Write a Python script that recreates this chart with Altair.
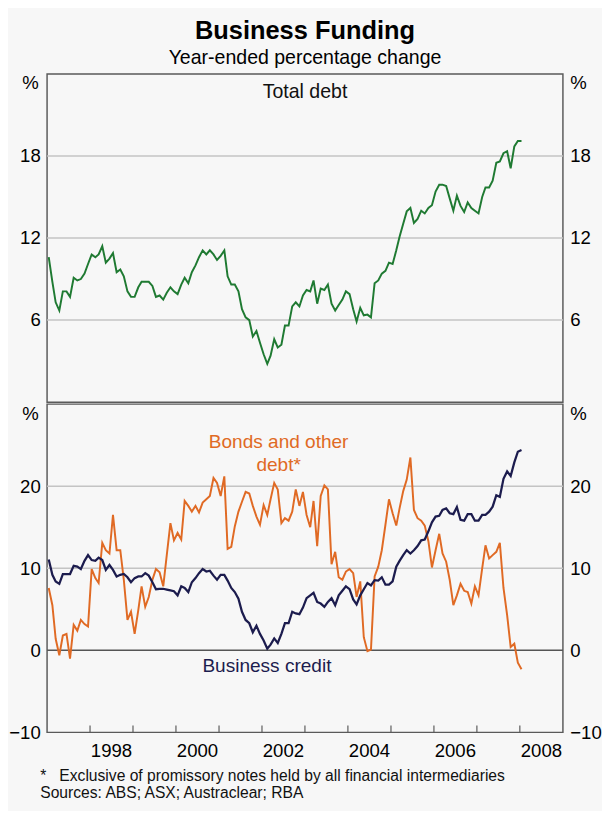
import altair as alt
import pandas as pd

# ---------------- data (monthly, Jan 1997 - Jan 2008) ----------------
total_debt = [
    10.6, 8.8, 7.3, 6.7, 8.1, 8.1, 7.7, 9.1, 8.9, 9.0, 9.4, 10.1,
    10.8, 10.6, 10.8, 11.4, 10.2, 10.5, 10.9, 9.5, 9.7, 9.2, 8.1, 7.7,
    7.7, 8.4, 8.8, 8.8, 8.8, 8.5, 7.7, 7.8, 7.5, 8.0, 8.4, 8.1,
    7.9, 8.6, 9.1, 8.7, 9.5, 10.0, 10.6, 11.1, 10.8, 11.1, 10.8, 10.4,
    10.7, 11.1, 9.2, 8.6, 8.6, 8.1, 6.8, 6.2, 6.0, 4.8, 5.2, 4.35,
    3.5, 2.8, 3.4, 4.6, 4.0, 4.2, 5.6, 5.6, 7.0, 7.3, 7.0, 7.8,
    8.2, 8.1, 8.9, 7.2, 8.3, 8.2, 8.6, 7.2, 6.7, 7.1, 7.5, 8.1,
    7.9, 6.8, 5.9, 6.9, 6.35, 6.4, 6.2, 8.7, 8.9, 9.4, 9.6, 10.2,
    10.1, 11.1, 12.1, 13.05, 13.95, 14.2, 13.1, 13.4, 14.0, 13.8, 14.2, 14.4,
    15.4, 15.9, 15.9, 15.8, 14.9, 14.0, 15.1, 14.35, 13.9, 14.6, 14.2, 14.0,
    13.8, 15.0, 15.7, 15.7, 16.2, 17.5, 17.6, 18.2, 18.35, 17.1, 18.7, 19.1,
    19.1,
]
business_credit = [
    11.06, 9.2, 8.4, 8.1, 9.3, 9.3, 9.3, 10.3, 10.2, 9.9, 10.9, 11.6,
    11.0, 10.9, 11.3, 11.0, 9.8, 10.4, 9.8, 9.0, 9.2, 9.3, 8.9, 8.3,
    8.8, 9.0, 9.0, 9.4, 9.1, 8.3, 7.45, 7.5, 7.5, 7.4, 7.3, 7.2,
    6.7, 7.8, 7.6, 7.1, 8.3, 8.8, 9.4, 9.9, 9.6, 9.7, 9.1, 8.6,
    9.2, 9.2, 8.5, 7.6, 7.1, 6.3, 4.7, 3.7, 3.3, 2.2, 3.0, 2.0,
    1.2, 0.2, 0.7, 1.45, 0.9, 2.0, 3.3, 3.3, 4.7, 4.5, 4.4, 5.2,
    6.35, 6.7, 7.0, 5.9, 5.7, 5.3, 5.9, 6.35, 5.5, 6.7, 7.25, 7.8,
    7.45, 6.2, 5.6, 6.7, 7.45, 8.2, 7.9, 8.55, 8.5, 8.9, 8.0, 8.0,
    8.4, 10.2, 10.9, 11.6, 12.2, 11.8, 12.2, 12.7, 13.4, 13.5, 14.5, 15.6,
    16.3, 16.4, 17.1, 17.3, 16.7, 16.6, 17.45, 15.9, 15.8, 16.6, 16.6, 15.8,
    15.8, 16.5, 16.5, 16.9, 17.5, 18.9, 18.7, 20.9, 21.8, 21.25, 22.9, 24.2,
    24.4,
]
bonds_other = [
    7.6, 5.5, 1.4, -0.6, 1.8, 2.0, -1.0, 3.1, 2.4, 3.7, 3.2, 2.9,
    9.9, 8.8, 8.2, 13.1, 12.2, 11.8, 16.5, 12.2, 12.2, 8.6, 3.7, 4.7,
    2.0, 4.9, 7.8, 5.3, 6.5, 8.6, 9.9, 9.5, 7.8, 11.6, 15.5, 13.4,
    14.3, 13.5, 18.2, 17.6, 16.9, 17.6, 16.8, 18.0, 18.4, 18.8, 21.0, 20.4,
    18.8, 21.2, 12.35, 12.6, 15.1, 16.9, 18.1, 19.3, 19.1, 17.6, 16.3, 15.3,
    17.7, 16.5, 18.4, 20.4, 19.6, 15.5, 16.1, 15.8, 16.9, 19.6, 17.6, 19.3,
    16.5, 15.0, 18.2, 12.7, 18.8, 20.1, 19.6, 10.5, 12.0, 8.9, 8.6, 9.6,
    9.9, 9.4, 6.5, 8.4, 1.6, -0.1, 0.1, 9.0, 10.2, 12.2, 15.3, 18.4,
    16.7, 15.2, 17.3, 19.4, 20.8, 23.5, 17.1, 16.1, 15.8, 15.2, 13.3, 10.1,
    12.2, 14.2, 11.8, 10.8, 8.6, 5.5, 6.7, 8.1, 7.25, 7.1, 5.7, 7.8,
    6.7, 10.0, 12.8, 11.2, 11.6, 12.0, 13.1, 7.6, 4.3, 0.4, 0.8, -1.5,
    -2.3,
]

tick_years = list(range(1998, 2009))
label_years = [1998, 2000, 2002, 2004, 2006, 2008]
top_ticks = [6, 12, 18]
bottom_ticks = [-10, 0, 10, 20]
bottom_grid = [10, 20]
zero_line = [0]

title_text = "Business Funding"
subtitle_text = "Year-ended percentage change"
footnote_text = "*\u00a0\u00a0 Exclusive of promissory notes held by all financial intermediaries"
sources_text = "Sources: ABS; ASX; Austraclear; RBA"

dates = pd.date_range("1997-01-01", periods=len(total_debt), freq="MS") + pd.Timedelta(days=14)
df = pd.DataFrame({
    "date": dates.strftime("%Y-%m-%d"),
    "total": total_debt,
    "credit": business_credit,
    "bonds": bonds_other,
})
ticks_df = pd.DataFrame({"date": [f"{y}-01-01" for y in tick_years]})
labels_df = pd.DataFrame({"date": [f"{y}-07-02" for y in label_years],
                          "label": [str(y) for y in label_years]})

# ---------------- styling ----------------
FONT = "Liberation Sans"
W, H = 528, 336
GREEN = "#1f7a32"
ORANGE = "#e06a24"
NAVY = "#1c1c4e"
GRID = "#c4c4c4"
FRAME = "#5a5a5a"

xscale = alt.Scale(type="utc",
                   domain=[alt.DateTime(year=1997, month=1, date=1, utc=True),
                           alt.DateTime(year=2009, month=1, date=1, utc=True)])


def yaxis(orient, values, title_y):
    left = orient == "left"
    return alt.Axis(
        orient=orient, values=values, grid=False, ticks=False, domain=False,
        labelPadding=7, labelFontSize=19, labelColor="black", labelFont=FONT,
        labelFlush=False, labelOverlap=False,
        title="%", titleAngle=0, titleFontSize=19, titleFontWeight="normal",
        titleColor="black", titleFont=FONT, titleBaseline="alphabetic",
        titleAlign="right" if left else "left",
        titleX=-9 if left else 7, titleY=title_y,
    )


def text_layer(text, x, y, size, color="#111111", weight="normal", align="center"):
    return alt.Chart(pd.DataFrame({"t": [text]})).mark_text(
        fontSize=size, font=FONT, color=color, fontWeight=weight,
        align=align, baseline="alphabetic",
    ).encode(text="t:N", x=alt.value(x), y=alt.value(y))


# ---------------- top panel: total debt ----------------
ytop = alt.Scale(domain=[0, 24], nice=False, zero=False)

top_grid = alt.Chart(pd.DataFrame({"v": top_ticks})).mark_rule(
    color=GRID, strokeWidth=1.5
).encode(y=alt.Y("v:Q", scale=ytop, axis=yaxis("left", top_ticks, 15)))

top_line = alt.Chart(df).mark_line(color=GREEN, strokeWidth=2).encode(
    x=alt.X("date:T", scale=xscale, axis=None),
    y=alt.Y("total:Q", scale=ytop, axis=yaxis("right", top_ticks, 15)),
)

top = alt.layer(
    top_grid, top_line,
    text_layer("Total debt", W / 2, 25, 20),
    text_layer(title_text, W / 2, -36, 26, color="black", weight="bold"),
    text_layer(subtitle_text, W / 2, -10.5, 20, color="black"),
).resolve_axis(y="independent").properties(width=W, height=H)

# ---------------- bottom panel: credit and bonds ----------------
ybot = alt.Scale(domain=[-10, 30], nice=False, zero=False)

bot_grid = alt.Chart(pd.DataFrame({"v": bottom_grid})).mark_rule(
    color=GRID, strokeWidth=1.5
).encode(y=alt.Y("v:Q", scale=ybot, axis=yaxis("left", bottom_ticks, 16)))

bot_zero = alt.Chart(pd.DataFrame({"v": zero_line})).mark_rule(
    color="#555555", strokeWidth=1.5
).encode(y=alt.Y("v:Q", scale=ybot, axis=None))

bonds_line = alt.Chart(df).mark_line(color=ORANGE, strokeWidth=2).encode(
    x=alt.X("date:T", scale=xscale, axis=None),
    y=alt.Y("bonds:Q", scale=ybot, axis=yaxis("right", bottom_ticks, 16)),
)

credit_line = alt.Chart(df).mark_line(color=NAVY, strokeWidth=2.3).encode(
    x=alt.X("date:T", scale=xscale, axis=None),
    y=alt.Y("credit:Q", scale=ybot, axis=None),
)

x_ticks = alt.Chart(ticks_df).mark_rule(color=FRAME, strokeWidth=1.2).encode(
    x=alt.X("date:T", scale=xscale, axis=None),
    y=alt.value(H), y2=alt.value(H - 7),
)

x_labels = alt.Chart(labels_df).mark_text(
    fontSize=19, font=FONT, color="black", align="center", baseline="alphabetic"
).encode(
    x=alt.X("date:T", scale=xscale, axis=None),
    y=alt.value(H + 25.5),
    text="label:N",
)

bonds_label = alt.Chart(pd.DataFrame({"t": ["Bonds and other"]})).mark_text(
    fontSize=19.5, font=FONT, color=ORANGE, align="center", baseline="alphabetic",
    lineHeight=23,
).encode(text=alt.value(["Bonds and other", "debt*"]), x=alt.value(237), y=alt.value(45))

bottom = alt.layer(
    bot_grid, bot_zero, bonds_line, credit_line, x_ticks, x_labels, bonds_label,
    text_layer("Business credit", 225, 274, 19.5, color=NAVY),
    text_layer(footnote_text, -7, H + 50, 16, align="left"),
    text_layer(sources_text, -7, H + 67, 16, align="left"),
).resolve_axis(y="independent").properties(width=W, height=H)

chart = alt.vconcat(top, bottom, spacing=0).properties(
    background="#f7f7f7",
    padding=0,
).configure_view(stroke=FRAME, strokeWidth=1.5)

chart.save("out.html", embed_options={"renderer": "svg", "actions": False})
